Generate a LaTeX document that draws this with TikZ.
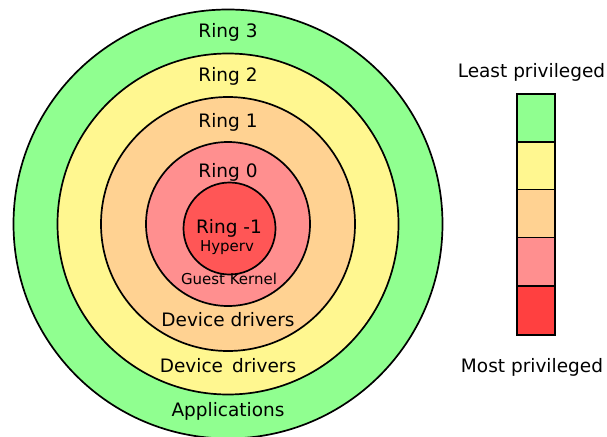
\documentclass[tikz,border=0pt]{standalone}
\usepackage{fontspec}
\setmainfont{DejaVu Sans}
\definecolor{ringthree}{HTML}{90FF90}
\definecolor{ringtwo}{HTML}{FFF790}
\definecolor{ringone}{HTML}{FFD292}
\definecolor{ringzero}{HTML}{FF8F8F}
\definecolor{ringminus}{HTML}{FF5656}
\definecolor{ringred}{HTML}{FF4040}
\tikzset{ring/.style={draw=black,line width=1.7pt},
         lbl/.style={inner sep=0pt,font=\fontsize{18.5}{21}\selectfont},
         small/.style={inner sep=0pt,font=\fontsize{15}{17}\selectfont},
         swatch/.style={draw=black,line width=1.3pt}}

\begin{document}
\begin{tikzpicture}[x=1pt,y=-1pt]
            \useasboundingbox (0,0) rectangle (607,436);
            \clip (0,0) rectangle (607,436);
            \coordinate (c) at (228,224);
            \coordinate (ci) at (229.5,228.5);

            \filldraw[ring,fill=ringthree] (c) circle (214.5pt);
            \filldraw[ring,fill=ringtwo] (c) circle (170.5pt);
            \filldraw[ring,fill=ringone] (c) circle (127pt);
            \filldraw[ring,fill=ringzero] (c) circle (82pt);
            \filldraw[ring,fill=ringminus] (ci) circle (46pt);

            \node[lbl] (r3) at (228,32) {Ring 3};
            \node[lbl] (r2) at (228,76) {Ring 2};
            \node[lbl] (r1) at (228,122) {Ring 1};
            \node[lbl] (r0) at (228,172) {Ring 0};
            \node[lbl] (rm) at (229,228) {Ring -1};
            \node[small] (hyp) at (227,248) {Hyperv};
            \node[small] (guest) at (229,279) {Guest Kernel};
            \node[lbl] (drv1) at (228,320) {Device drivers};
            \node[lbl] (drv2) at (228,366) {Device\ \,drivers};
            \node[lbl] (apps) at (228,411) {Applications};

            \filldraw[swatch,fill=ringthree] (517,94) rectangle (555,142);
            \filldraw[swatch,fill=ringtwo] (517,142) rectangle (555,189.5);
            \filldraw[swatch,fill=ringone] (517,189.5) rectangle (555,237.5);
            \filldraw[swatch,fill=ringzero] (517,237.5) rectangle (555,286);
            \filldraw[swatch,fill=ringred] (517,286) rectangle (555,335);

            \node[lbl] (least) at (531.5,72) {Least privileged};
            \node[lbl] (most) at (532,367) {Most privileged};
          \end{tikzpicture}
\end{document}
